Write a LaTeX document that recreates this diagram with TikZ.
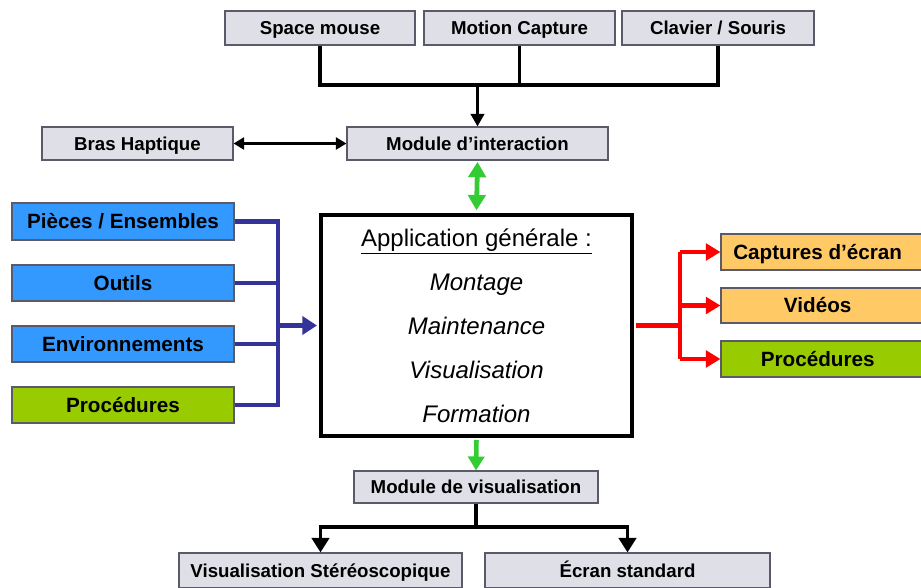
\documentclass[tikz,border=0pt]{standalone}
\usepackage{fontspec}
\setmainfont{Liberation Sans}
\usetikzlibrary{arrows.meta}
\definecolor{gfill}{HTML}{DFDFE8}
\definecolor{gedge}{HTML}{5A5A6A}
\definecolor{bfill}{HTML}{3399FF}
\definecolor{grfill}{HTML}{99CC00}
\definecolor{ofill}{HTML}{FFC966}
\definecolor{navy}{HTML}{333399}
\definecolor{garrow}{HTML}{33CC33}
\tikzset{
  x=0.75pt, y=-0.75pt,
  wh/.style 2 args={minimum width=#1*0.75pt, minimum height=#2*0.75pt, inner sep=0pt},
  base/.style={draw=gedge, line width=0.8pt, text height=10pt, text depth=0pt, font=\fontsize{14}{16}\selectfont\bfseries},
  gbox/.style={base, fill=gfill},
  big/.style={text height=11pt, font=\fontsize{15.5}{18}\selectfont\bfseries},
  bbox/.style={base, big, fill=bfill},
  grbox/.style={base, big, fill=grfill},
  obox/.style={base, big, fill=ofill},
  blk/.style={line width=2.8pt, black},
  blkarr/.style={blk, -{Triangle[length=11pt,width=13pt]}},
  navyl/.style={line width=3.2pt, navy},
  redl/.style={line width=3.2pt, red},
  redarr/.style={redl, -{Triangle[length=11pt,width=12.5pt]}},
}
\begin{document}
\begin{tikzpicture}
\useasboundingbox (0,0) rectangle (921,587);
\clip (0,0) rectangle (921,587);
% top inputs
\node[gbox, wh={190}{34}] (sm) at (320,28) {Space mouse};
\node[gbox, wh={191}{34}] (mc) at (519.5,28) {Motion Capture};
\node[gbox, wh={192}{34}] (cs) at (718,28) {Clavier / Souris};
\node[gbox, wh={261}{33}] (mi) at (477.5,143.5) {Module d’interaction};
\node[gbox, wh={191}{33}] (bh) at (137.5,143.5) {Bras Haptique};
% central application
\node[draw=black, line width=3pt, fill=white, wh={311}{221}, align=center,
      font=\fontsize{18}{33}\selectfont] (app) at (476.5,325.5)
  {\underline{Application générale :}\\ \itshape Montage\\ \itshape Maintenance\\ \itshape Visualisation\\ \itshape Formation};
% left inputs
\node[bbox, wh={222}{37}] (pe) at (123,221.5) {Pièces / Ensembles};
\node[bbox, wh={222}{36}] (ou) at (123,283) {Outils};
\node[bbox, wh={222}{36}] (en) at (123,344) {Environnements};
\node[grbox, wh={222}{36}] (pr) at (123,405) {Procédures};
% right outputs
\node[obox, wh={204}{36}] (ce) at (823,252) {\hspace*{-8pt}Captures d’écran};
\node[obox, wh={204}{35}] (vi) at (823,305.5) {\hspace*{-8pt}Vidéos};
\node[grbox, wh={204}{36}] (pr2) at (823,359) {\hspace*{-8pt}Procédures};
% bottom
\node[gbox, wh={244}{32}] (mv) at (476,487) {Module de visualisation};
\node[gbox, wh={283}{35}] (vs) at (320.5,570.5) {Visualisation Stéréoscopique};
\node[gbox, wh={285}{35}] (es) at (627.5,570.5) {Écran standard};
% helper coordinates
\coordinate (y85) at (0,85);
\coordinate (xl) at (278,0);
\coordinate (xr) at (680,0);
\coordinate (y527) at (0,527);
% top connectors
\draw[blk] (sm.south) |- (cs.south |- y85) -- (cs.south);
\draw[blk] (mc.south) -- (mc.south |- y85);
\draw[blk, -{Triangle[length=9.5pt,width=10pt]}] (mi.north |- y85) -- (mi.north);
\draw[line width=2pt, {Triangle[length=8pt,width=9pt]}-{Triangle[length=8pt,width=9pt]}] (bh.east) -- (mi.west);
\draw[line width=3.6pt, garrow, {Triangle[length=11.5pt,width=13pt]}-{Triangle[length=11.5pt,width=13pt]}] ([yshift=-1pt]mi.south) -- ([yshift=2pt]app.north);
% left connectors
\draw[navyl] (pe.east) -- (pe.east -| xl) -- (pr.east -| xl) -- (pr.east);
\draw[navyl] (ou.east) -- (ou.east -| xl);
\draw[navyl] (en.east) -- (en.east -| xl);
\draw[navyl, -{Triangle[length=11pt,width=13.5pt]}] (app.west -| xl) -- ([xshift=-1.5pt]app.west);
% right connectors
\draw[redl] ([xshift=1.5pt]app.east) -- (app.east -| xr);
\draw[redl] (ce.west -| xr) -- (pr2.west -| xr);
\draw[redarr] (ce.west -| xr) -- (ce.west);
\draw[redarr] (vi.west -| xr) -- (vi.west);
\draw[redarr] (pr2.west -| xr) -- (pr2.west);
% bottom connectors
\draw[line width=3.4pt, garrow, -{Triangle[length=10.5pt,width=12pt]}] ([yshift=-1.5pt]app.south) -- (mv.north);
\draw[blk] (mv.south) -- (mv.south |- y527);
\draw[blkarr] (mv.south |- y527) -| (vs.north);
\draw[blkarr] (mv.south |- y527) -| (es.north);
\end{tikzpicture}
\end{document}
